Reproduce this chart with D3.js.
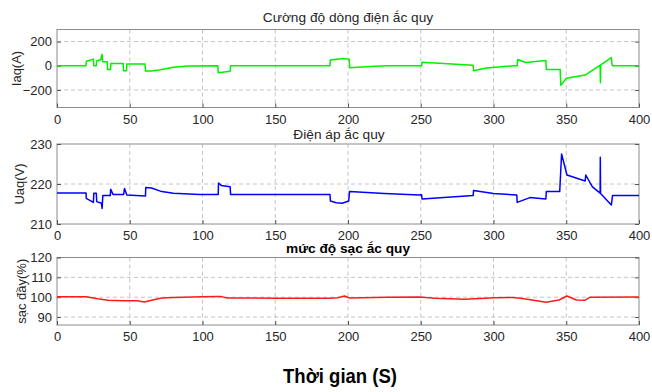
<!DOCTYPE html>
<html>
<head>
<meta charset="utf-8">
<script src="https://cdn.jsdelivr.net/npm/d3@7"></script>
<style>
  body { margin: 0; background: #fff; }
  text { font-family: "Liberation Sans", Arial, sans-serif; }
</style>
</head>
<body>
<svg id="chart" width="652" height="392"></svg>
<script>
// time axis ticks, shared by the three panels
var xTicks = [0, 50, 100, 150, 200, 250, 300, 350, 400];

// battery current (A)
var iaqT = [0, 20, 20.1, 25, 25.3, 27, 27.2, 30, 31, 31.3, 34.5, 34.7, 36.8, 37, 45.5, 45.7, 47.8, 48, 60.5, 60.8, 65, 70, 80, 90, 110.5, 110.8, 119, 119.3, 187.6, 187.9, 196.8, 200.8, 201.2, 215, 227, 250.6, 250.9, 286, 286.3, 295, 313.7, 316.3, 316.6, 322, 336, 336.3, 345.8, 346.3, 350, 363, 373.3, 373.5, 373.7, 381, 381.5, 382, 400];
var iaqV = [0, 0, 38, 55, 0, 0, 40, 50, 96, 33, 33, -30, -30, 19, 19, -41, -41, 14, 14, -44, -44, -35, -12, -2, 0, -58, -45, 0, 0, 47, 60, 55, -16, -5, 0, 0, 30, 5, -41, -18, 0, 0, 52, 27, 44, -30, -30, -162, -104, -77, 5, -140, 7, 68, 8, 0, 0];

// battery voltage (V)
var uaqT = [0, 20, 20.1, 25, 25.3, 27, 27.3, 30.5, 31, 31.5, 36.6, 36.9, 38.5, 45.8, 46.4, 48, 60.8, 61, 65, 72, 80, 98, 110.8, 111, 113, 119, 119.3, 187.6, 187.9, 192, 196, 200.5, 201, 225, 249, 250.6, 250.9, 286, 286.3, 300, 316, 316.3, 325, 336, 336.3, 345.5, 346.8, 350.5, 363, 363.4, 368, 373.3, 373.4, 373.6, 381, 381.8, 400];
var uaqV = [217.75, 217.75, 216.4, 215.4, 217.7, 217.7, 215.6, 215.2, 213.9, 217.1, 217.1, 218.7, 217.4, 217.4, 218.9, 217.25, 217.0, 219.1, 219.0, 218.1, 217.7, 217.4, 217.4, 220.25, 219.6, 219.3, 217.4, 217.4, 215.75, 215.3, 215.2, 215.75, 218.1, 217.6, 217.25, 217.3, 216.25, 217.1, 218.4, 217.6, 217.25, 215.4, 216.6, 216.25, 218.1, 218.1, 227.5, 222.25, 220.75, 222.25, 219.3, 217.7, 226.7, 217.6, 214.75, 217.1, 217.1];

// state of charge (%)
var socT = [0, 20, 28, 35, 45, 55, 60, 65, 72, 80, 100, 110, 113, 117, 150, 187, 193, 197.6, 201, 227, 249, 260, 280, 301, 313, 320, 336, 345, 350.5, 357, 363, 366.5, 400];
var socV = [100.2, 100.2, 99.2, 98.5, 98.2, 98.2, 97.6, 98.5, 99.6, 99.9, 100.2, 100.4, 100.3, 99.6, 99.5, 99.5, 99.7, 100.6, 99.6, 100, 100.1, 99.5, 99.0, 99.7, 99.9, 99.4, 97.5, 98.6, 100.6, 98.6, 98.5, 100, 100.1];

var svg = d3.select("#chart");
var left = 57, right = 639;

function panel(cfg) {
	var x = d3.scaleLinear().domain([0, 400]).range([left, right]);
	var y = d3.scaleLinear().domain(cfg.domain).range([cfg.bottom, cfg.top]);
	var g = svg.append("g");

	// dashed grid
	g.selectAll(".gx").data(xTicks.slice(1, -1)).enter().append("line")
		.attr("x1", function(d) { return x(d); }).attr("x2", function(d) { return x(d); })
		.attr("y1", cfg.top).attr("y2", cfg.bottom)
		.attr("stroke", "#c4c4c4").attr("stroke-dasharray", "4,3");
	g.selectAll(".gy").data(cfg.grid).enter().append("line")
		.attr("y1", function(d) { return y(d); }).attr("y2", function(d) { return y(d); })
		.attr("x1", left).attr("x2", right)
		.attr("stroke", "#c4c4c4").attr("stroke-dasharray", "4,3");

	// box
	g.append("rect").attr("x", left).attr("y", cfg.top)
		.attr("width", right - left).attr("height", cfg.bottom - cfg.top)
		.attr("fill", "none").attr("stroke", "#8c8c8c");

	var xa = g.append("g").attr("transform", "translate(0," + cfg.bottom + ")")
		.call(d3.axisBottom(x).tickValues(xTicks).tickSize(-4).tickPadding(7));
	var ya = g.append("g").attr("transform", "translate(" + left + ",0)")
		.call(d3.axisLeft(y).tickValues(cfg.ticks).tickSize(-4).tickPadding(5));
	var yr = g.append("g").attr("transform", "translate(" + right + ",0)")
		.call(d3.axisRight(y).tickValues(cfg.ticks).tickSize(-4).tickFormat(""));
	[xa, ya, yr].forEach(function(a) {
		a.select(".domain").remove();
		a.selectAll("line").attr("stroke", "#555");
		a.selectAll("text").attr("font-size", 13).attr("fill", "#262626")
			.attr("font-family", "Liberation Sans, Arial, sans-serif");
	});

	var line = d3.line()
		.x(function(d, i) { return x(cfg.t[i]); })
		.y(function(d) { return y(d); });
	g.append("path").datum(cfg.v)
		.attr("fill", "none").attr("stroke", cfg.color)
		.attr("stroke-width", 1.5).attr("stroke-linejoin", "round")
		.attr("d", line);

	g.append("text").text(cfg.title)
		.attr("x", cfg.titleX).attr("y", cfg.titleY)
		.attr("text-anchor", "middle").attr("font-size", 13.7)
		.attr("font-weight", cfg.titleBold ? "bold" : "normal")
		.attr("fill", cfg.titleBold ? "#000" : "#262626");
	g.append("text").text(cfg.ylabel)
		.attr("transform", "translate(" + cfg.ylabelX + "," + ((cfg.top + cfg.bottom) / 2) + ") rotate(-90)")
		.attr("text-anchor", "middle").attr("font-size", 13).attr("fill", "#262626");
}

panel({ t: iaqT, v: iaqV, color: "#00f000", domain: [-345, 300], top: 29.5, bottom: 107.5,
	ticks: [-200, 0, 200], grid: [-200, 200], title: "Cường độ dòng điện ắc quy",
	titleX: 348, titleY: 22, ylabel: "Iaq(A)", ylabelX: 21 });
panel({ t: uaqT, v: uaqV, color: "#0000ff", domain: [210, 230], top: 144, bottom: 224,
	ticks: [210, 220, 230], grid: [220], title: "Điện áp ắc quy",
	titleX: 339, titleY: 139, ylabel: "Uaq(V)", ylabelX: 24 });
panel({ t: socT, v: socV, color: "#ff1a1a", domain: [86, 120], top: 257.5, bottom: 325,
	ticks: [90, 100, 110, 120], grid: [90, 100, 110], title: "mức độ sạc ắc quy", titleBold: true,
	titleX: 348, titleY: 253, ylabel: "sạc đầy(%)", ylabelX: 26 });

svg.append("text").text("Thời gian (S)")
	.attr("x", 340).attr("y", 383)
	.attr("text-anchor", "middle")
	.attr("font-family", "DejaVu Sans Condensed, DejaVu Sans, sans-serif")
	.attr("textLength", 114).attr("lengthAdjust", "spacingAndGlyphs")
	.attr("font-weight", "bold").attr("font-size", 21).attr("fill", "#000");
</script>
</body>
</html>
